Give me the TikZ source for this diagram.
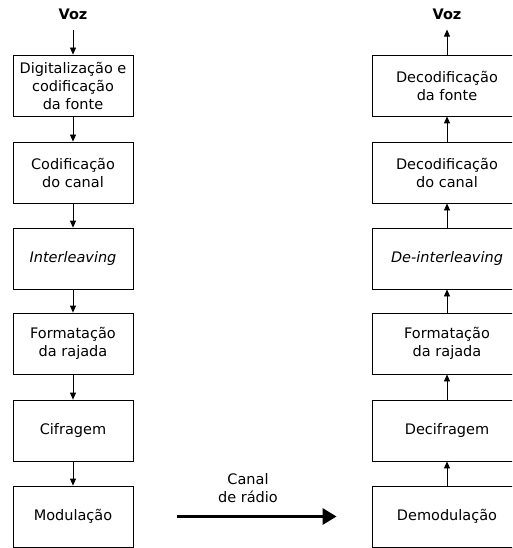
\documentclass[tikz,border=0pt]{standalone}
\usepackage{fontspec}
\setmainfont{DejaVu Sans}
\usetikzlibrary{arrows.meta}

\begin{document}
\begin{tikzpicture}[x=1pt, y=-1pt,
    block/.style={rectangle, draw=black, line width=0.8pt, fill=white,
        minimum width=120pt, minimum height=61pt, inner sep=2pt,
        align=center, font=\fontsize{14.5}{18}\selectfont},
    rblock/.style={block, minimum width=150pt},
    heading/.style={inner sep=10pt, font=\fontsize{14.5}{18}\selectfont\bfseries},
    flow/.style={line width=0.8pt, -{Triangle[length=7pt, width=6pt]}},
    channel/.style={line width=3pt, -{Triangle[length=14pt, width=16pt]}}
]
    \useasboundingbox (0,0) rectangle (512,548);
    \clip (0,0) rectangle (512,548);
    % emissor
    \node[heading] (vozin) at (73,14) {Voz};
    \node[block] (fonte) at (73,85.5) {Digitalização e\\codificação\\da fonte};
    \node[block] (canal) at (73,172.5) {Codificação\\do canal};
    \node[block] (inter) at (73,258.5) {\itshape Interleaving};
    \node[block] (rajada) at (73,343.5) {Formatação\\da rajada};
    \node[block] (cifra) at (73,430.5) {Cifragem};
    \node[block] (modul) at (73,516.5) {Modulação};
    % receptor
    \node[heading] (vozout) at (447,14) {Voz};
    \node[rblock] (dfonte) at (447,85.5) {Decodificação\\da fonte};
    \node[rblock] (dcanal) at (447,172.5) {Decodificação\\do canal};
    \node[rblock] (dinter) at (447,258.5) {\itshape De-interleaving};
    \node[rblock] (drajada) at (447,343.5) {Formatação\\da rajada};
    \node[rblock] (dcifra) at (447,430.5) {Decifragem};
    \node[rblock] (demod) at (447,516.5) {Demodulação};
    \node[align=center, font=\fontsize{14.5}{18}\selectfont] (radio) at (248,488) {Canal\\de rádio};
    \draw[flow] (vozin) -- (fonte);
    \draw[flow] (fonte) -- (canal);
    \draw[flow] (canal) -- (inter);
    \draw[flow] (inter) -- (rajada);
    \draw[flow] (rajada) -- (cifra);
    \draw[flow] (cifra) -- (modul);
    \draw[flow] (demod) -- (dcifra);
    \draw[flow] (dcifra) -- (drajada);
    \draw[flow] (drajada) -- (dinter);
    \draw[flow] (dinter) -- (dcanal);
    \draw[flow] (dcanal) -- (dfonte);
    \draw[flow] (dfonte) -- (vozout);
    \draw[channel, shorten <=44pt, shorten >=35pt] (modul) -- (demod);
\end{tikzpicture}
\end{document}
